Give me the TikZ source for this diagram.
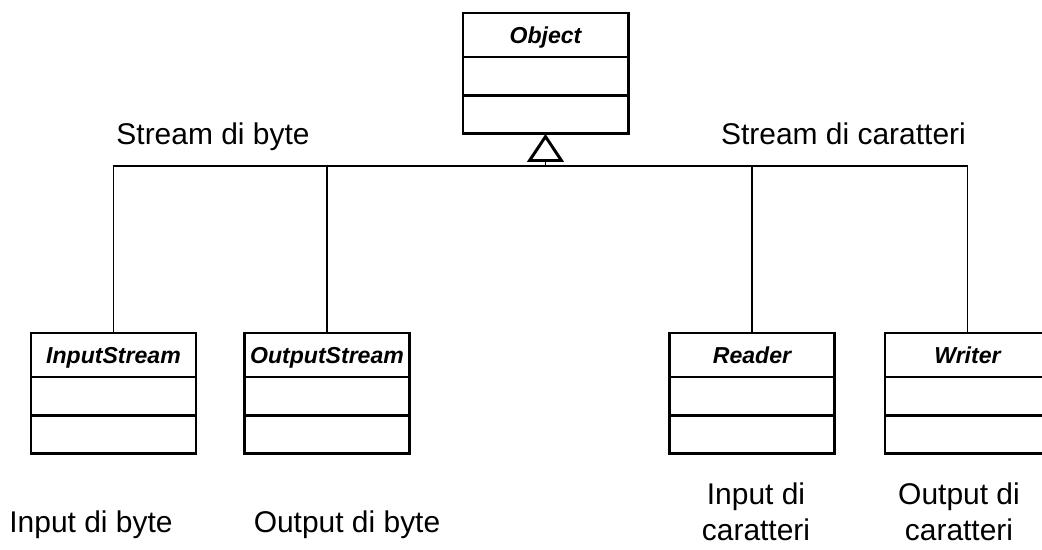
\documentclass[tikz,border=0pt]{standalone}
\usepackage{fontspec}
\setmainfont{Liberation Sans}
\usetikzlibrary{positioning,arrows.meta}

\begin{document}
\begin{tikzpicture}[
  x=0.025cm, y=-0.025cm,
  classhead/.style={draw,line width=2.1pt,outer sep=0pt,inner sep=0pt,
    minimum width=4.125cm,minimum height=1.1cm,
    text height=11.8pt,text depth=0pt,
    font=\fontsize{16.4}{18}\selectfont\bfseries\itshape},
  classpart/.style={draw,line width=2.1pt,outer sep=0pt,inner sep=0pt,
    minimum width=4.125cm,minimum height=0.96cm},
  ]
  \tikzset{%
    caption/.style={
      anchor=base,
      inner sep=0pt,
      align=center,
      font=\fontsize{21.3}{25.6}\selectfont,
    },
  }
  \useasboundingbox (0,0) rectangle (1042,549);
  %Nodes
  \node[classhead](obj) at (545.5,35) {Object};
  \node[classpart,below=0pt of obj](objA){};
  \node[classpart,below=0pt of objA](objM){};
  \node[classhead](ins) at (113.5,355) {InputStream};
  \node[classpart,below=0pt of ins](insA){};
  \node[classpart,below=0pt of insA](insM){};
  \node[classhead](outs) at (327,355) {OutputStream};
  \node[classpart,below=0pt of outs](outsA){};
  \node[classpart,below=0pt of outsA](outsM){};
  \node[classhead](rd) at (752,355) {Reader};
  \node[classpart,below=0pt of rd](rdA){};
  \node[classpart,below=0pt of rdA](rdM){};
  \node[classhead](wr) at (967.5,355) {Writer};
  \node[classpart,below=0pt of wr](wrA){};
  \node[classpart,below=0pt of wrA](wrM){};
  \coordinate (hub) at (545.5,166);
  %Labels
  \node[caption](lbyte) at (213,144) {Stream di byte};
  \node[caption](lchar) at (843.5,144) {Stream di caratteri};
  \node[caption](lin) at (91,532) {Input di byte};
  \node[caption](lout) at (347,532) {Output di byte};
  \node[caption,anchor=north](lrd) at (756,483) {Input di\\caratteri};
  \node[caption,anchor=north](lwr) at (959,483) {Output di\\caratteri};
  %Lines
  \draw[line width=1.1pt]
    (ins.north) |- (hub)
    (outs.north) |- (hub)
    (rd.north) |- (hub)
    (wr.north) |- (hub);
  \draw[line width=1.1pt,-{Triangle[open,length=20pt,width=26pt,line width=2.1pt]}]
    (hub) -- (objM.south);
\end{tikzpicture}
\end{document}
